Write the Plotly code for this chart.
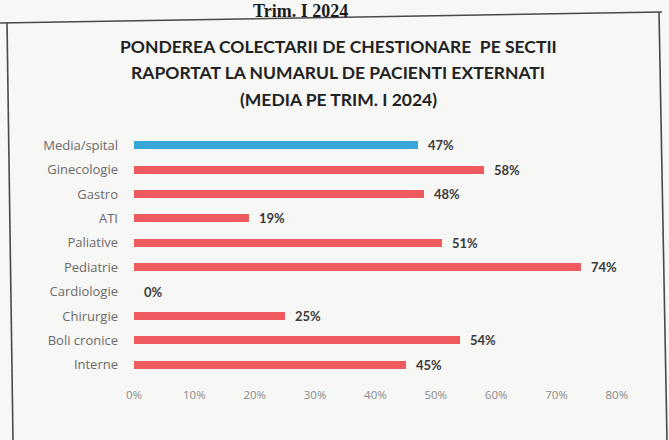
import plotly.graph_objects as go

# Data
categories = ["Media/spital", "Ginecologie", "Gastro", "ATI", "Paliative",
              "Pediatrie", "Cardiologie", "Chirurgie", "Boli cronice", "Interne"]
values = [47, 58, 48, 19, 51, 74, 0, 25, 54, 45]
tick_values = [0, 10, 20, 30, 40, 50, 60, 70, 80]
tick_labels = ["0%", "10%", "20%", "30%", "40%", "50%", "60%", "70%", "80%"]
title_lines = ["PONDEREA COLECTARII DE CHESTIONARE  PE SECTII",
               "RAPORTAT LA NUMARUL DE PACIENTI EXTERNATI",
               "(MEDIA PE TRIM. I 2024)"]
header_text = "Trim. I 2024"

BLUE = "#36A6D9"
RED = "#EF5A5E"
bar_colors = [BLUE] + [RED] * (len(categories) - 1)

# Canvas geometry (pixels)
FW, FH = 669, 440
L, R, T, B = 134, 28, 133, 63
W, H = FW - L - R, FH - T - B


def px(x):
    return (x - L) / W


def py(y):
    return (T + H - y) / H


fig = go.Figure()
fig.add_trace(go.Bar(
    x=values, y=categories, orientation="h",
    marker=dict(color=bar_colors, line=dict(width=0)),
    width=0.33, hoverinfo="skip",
))

annotations = []
# value labels at the end of each bar
for c, v in zip(categories, values):
    annotations.append(dict(
        x=v, y=c, xref="x", yref="y", text=f"<b>{v}%</b>",
        xanchor="left", yanchor="middle", xshift=8, showarrow=False,
        font=dict(family="Lato", size=13, color="#3a3a3a"),
    ))

# chart title, three centred lines
for line, ypos in zip(title_lines, [47, 73, 100]):
    annotations.append(dict(
        x=px(338), y=py(ypos), xref="paper", yref="paper",
        text=f"<b>{line}</b>", showarrow=False,
        xanchor="center", yanchor="middle",
        font=dict(family="Lato", size=17.5, color="#222222"),
    ))

# page heading above the framed chart
annotations.append(dict(
    x=px(300), y=py(0), xref="paper", yref="paper",
    text=f"<b>{header_text}</b>", showarrow=False,
    xanchor="center", yanchor="top", borderpad=0,
    font=dict(family="Liberation Serif", size=18, color="#1a1a1a"),
))

# frame around the chart
frame_color = "#4a4a4a"
frame = [((0, 23), (662, 12)), ((7, 22), (13, 440)), ((659, 12), (667, 440))]
shapes = []
for (x0, y0), (x1, y1) in frame:
    shapes.append(dict(
        type="line", xref="paper", yref="paper",
        x0=px(x0), y0=py(y0), x1=px(x1), y1=py(y1),
        line=dict(color=frame_color, width=1.6),
    ))

fig.update_layout(
    width=FW, height=FH,
    margin=dict(l=L, r=R, t=T, b=B),
    paper_bgcolor="#F7F7F5", plot_bgcolor="#F7F7F5",
    showlegend=False, bargap=0,
    annotations=annotations, shapes=shapes,
    xaxis=dict(
        range=[0, 84], tickvals=tick_values, ticktext=tick_labels,
        showgrid=False, zeroline=False, showline=False, ticks="",
        ticklabelstandoff=9,
        tickfont=dict(family="Open Sans", size=11.5, color="#8a8a8a"),
        fixedrange=True,
    ),
    yaxis=dict(
        type="category", autorange="reversed",
        showgrid=False, zeroline=False, showline=False, ticks="",
        ticklabelstandoff=15,
        tickfont=dict(family="Open Sans", size=13, color="#6a6a6a"),
        fixedrange=True,
    ),
)

fig.write_html("out.html", config={"displayModeBar": False})
